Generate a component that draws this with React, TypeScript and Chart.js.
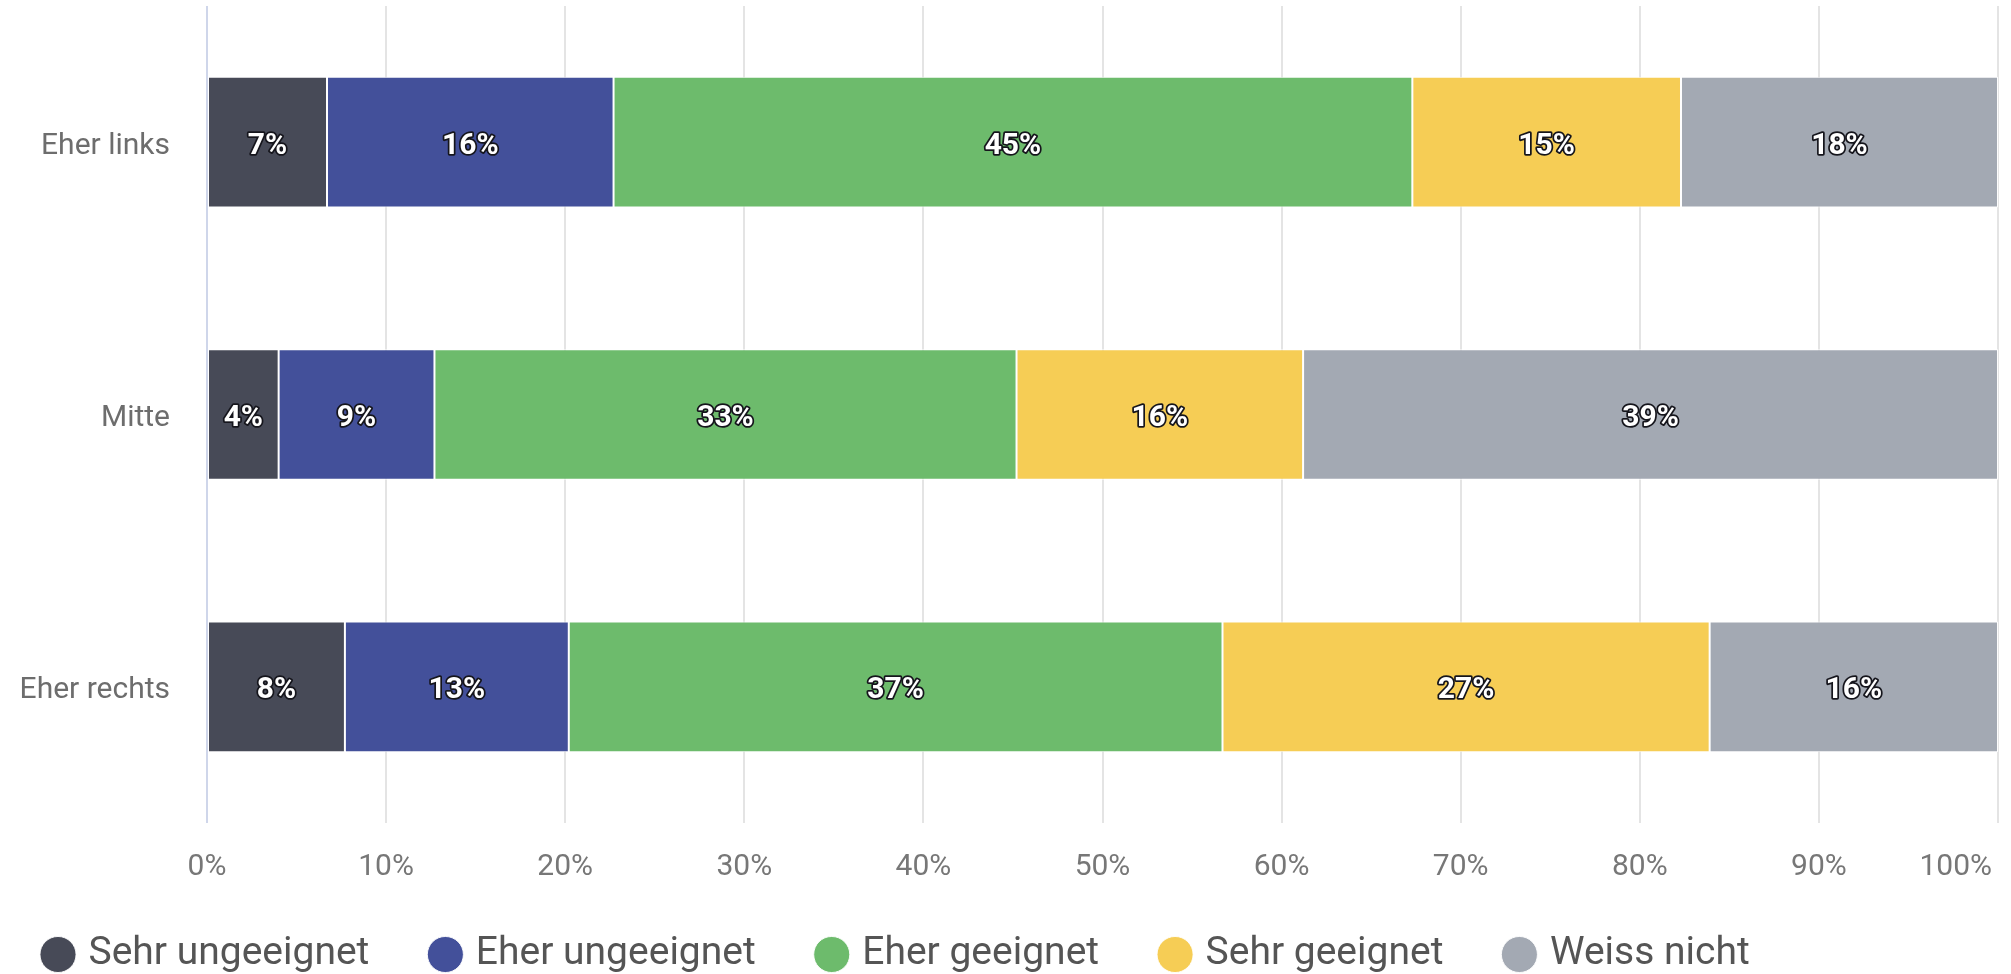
import React, { useEffect, useRef } from 'react';
import { Chart, registerables } from 'chart.js';

Chart.register(...registerables);

const categories = ['Eher links', 'Mitte', 'Eher rechts'];
const seriesNames = ['Sehr ungeeignet', 'Eher ungeeignet', 'Eher geeignet', 'Sehr geeignet', 'Weiss nicht'];
const sehrUngeeignet = [6.7, 4.0, 7.7];
const eherUngeeignet = [16.0, 8.7, 12.5];
const eherGeeignet = [44.6, 32.5, 36.5];
const sehrGeeignet = [15.0, 16.0, 27.2];
const weissNicht = [17.7, 38.8, 16.1];
const seriesColors = ['#474a57', '#43509a', '#6dbb6c', '#f6cd55', '#a3a9b3'];
const xTickValues = [0, 10, 20, 30, 40, 50, 60, 70, 80, 90, 100];
const xTickLabels = ['0%', '10%', '20%', '30%', '40%', '50%', '60%', '70%', '80%', '90%', '100%'];

const FONT = 'Roboto, "Noto Sans", sans-serif';

const barLabelPlugin = {
  id: 'barLabels',
  afterDatasetsDraw(chart: any) {
    const ctx = chart.ctx;
    ctx.save();
    ctx.font = `bold 30px ${FONT}`;
    ctx.textAlign = 'center';
    ctx.textBaseline = 'middle';
    ctx.lineJoin = 'round';
    chart.data.datasets.forEach((ds: any, di: number) => {
      const meta = chart.getDatasetMeta(di);
      if (meta.hidden) return;
      meta.data.forEach((el: any, i: number) => {
        const v = ds.data[i];
        const { x, base, y } = el.getProps(['x', 'base', 'y'], true);
        const cx = (x + base) / 2;
        const t = Math.round(v) + '%';
        ctx.lineWidth = 3.5;
        ctx.strokeStyle = '#15151c';
        ctx.strokeText(t, cx, y + 4);
        ctx.fillStyle = '#ffffff';
        ctx.fillText(t, cx, y + 4);
      });
    });
    ctx.restore();
  },
};

const xTickPlugin = {
  id: 'xTickLabels',
  afterDraw(chart: any) {
    const scale = chart.scales.x;
    const ctx = chart.ctx;
    ctx.save();
    ctx.font = `30px ${FONT}`;
    ctx.fillStyle = '#777777';
    ctx.textAlign = 'center';
    ctx.textBaseline = 'middle';
    const maxRight = chart.width - 19;
    xTickValues.forEach((v, i) => {
      const label = xTickLabels[i];
      const w = ctx.measureText(label).width;
      let px = scale.getPixelForValue(v);
      if (px + w / 2 > maxRight) px = maxRight - w / 2;
      ctx.fillText(label, px, chart.chartArea.bottom + 44);
    });
    ctx.restore();
  },
};

export default function App() {
  const canvasRef = useRef<HTMLCanvasElement | null>(null);

  useEffect(() => {
    if (!canvasRef.current) return;
    const seriesData = [sehrUngeeignet, eherUngeeignet, eherGeeignet, sehrGeeignet, weissNicht];
    const chart = new Chart(canvasRef.current, {
      type: 'bar',
      data: {
        labels: categories,
        datasets: seriesNames.map((name, i) => ({
          label: name,
          data: seriesData[i],
          backgroundColor: seriesColors[i],
          borderColor: 'rgba(255,255,255,0.9)',
          borderWidth: 1,
          borderSkipped: false,
          categoryPercentage: 0.6,
          barPercentage: 0.8,
        })),
      },
      options: {
        indexAxis: 'y',
        responsive: false,
        animation: false,
        devicePixelRatio: 1,
        layout: { padding: { top: 6, left: -18, right: 13, bottom: -10 } },
        scales: {
          x: {
            stacked: true,
            min: 0,
            max: 100,
            ticks: { display: false, stepSize: 10 },
            grid: {
              drawTicks: false,
              lineWidth: 2,
              color: (c: any) => (c.tick && c.tick.value === 0 ? '#cfd6ea' : '#e4e4e4'),
            },
            border: { display: false },
            afterFit: (s: any) => {
              s.height = 47;
              s.paddingLeft = 0;
              s.paddingRight = 0;
            },
          },
          y: {
            stacked: true,
            grid: { display: false, drawTicks: false },
            border: { display: false },
            ticks: {
              padding: 37,
              labelOffset: 4,
              color: '#6d6d6d',
              font: { family: FONT, size: 30 },
            },
            afterFit: (s: any) => {
              s.width = 225;
              s.paddingTop = 0;
              s.paddingBottom = 0;
            },
          },
        },
        plugins: {
          tooltip: { enabled: false },
          legend: {
            position: 'bottom',
            align: 'start',
            labels: {
              usePointStyle: true,
              pointStyle: 'circle',
              boxHeight: 25.5,
              boxWidth: 22,
              padding: 65,
              color: '#555555',
              font: { family: FONT, size: 39 },
            },
          },
        },
      },
      plugins: [barLabelPlugin, xTickPlugin],
    } as any);
    return () => chart.destroy();
  }, []);

  return (
    <div style={{ position: 'absolute', left: 0, top: 0, width: 2011, height: 974, background: '#fff' }}>
      <canvas ref={canvasRef} width={2011} height={974} style={{ width: 2011, height: 974, display: 'block' }} />
    </div>
  );
}
